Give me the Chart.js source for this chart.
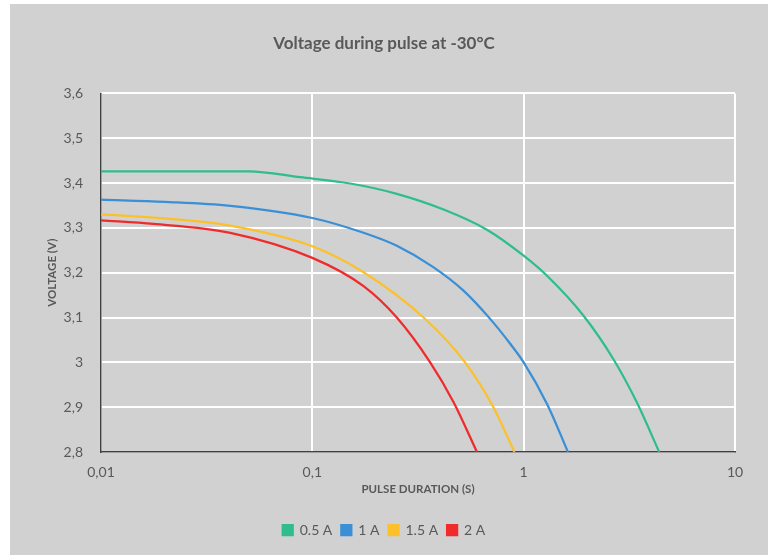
<!DOCTYPE html>
<html>
<head>
<meta charset="utf-8">
<script src="https://cdn.jsdelivr.net/npm/chart.js@4.4.1/dist/chart.umd.min.js"></script>
<style>
  html, body { margin: 0; padding: 0; background: #ffffff; }
  #wrap { width: 768px; height: 555px; }
</style>
</head>
<body>
<div id="wrap"><canvas id="c" width="768" height="555"></canvas></div>
<script>
// ---- data ----
const seriesNames = ['0.5 A', '1 A', '1.5 A', '2 A'];
const seriesColors = ['#2fbd90', '#3a8fd6', '#fcc12a', '#ef2b2b'];

const dur05 = [0.01, 0.05, 0.0877, 0.151, 0.251, 0.418, 0.67, 1.0, 1.297, 1.92, 2.66, 3.43, 4.38];
const volt05 = [3.426, 3.426, 3.413, 3.399, 3.376, 3.341, 3.296, 3.238, 3.192, 3.104, 3.007, 2.911, 2.8];

const dur1 = [0.01, 0.02, 0.0409, 0.1, 0.1747, 0.251, 0.372, 0.519, 0.694, 0.862, 1.0, 1.297, 1.62];
const volt1 = [3.363, 3.358, 3.349, 3.322, 3.289, 3.260, 3.213, 3.160, 3.097, 3.042, 3.0, 2.905, 2.8];

const dur15 = [0.01, 0.02, 0.0409, 0.1, 0.1747, 0.336, 0.528, 0.719, 0.904];
const volt15 = [3.330, 3.321, 3.305, 3.259, 3.201, 3.1, 3.0, 2.9, 2.8];

const dur2 = [0.01, 0.0177, 0.0409, 0.1, 0.1747, 0.251, 0.361, 0.466, 0.601];
const volt2 = [3.317, 3.309, 3.289, 3.233, 3.170, 3.100, 3.0, 2.911, 2.8];

const xTickValues = [0.01, 0.1, 1, 10];
const xTickLabels = ['0,01', '0,1', '1', '10'];
const yTickValues = [2.8, 2.9, 3.0, 3.1, 3.2, 3.3, 3.4, 3.5, 3.6];
const yTickLabels = ['2,8', '2,9', '3', '3,1', '3,2', '3,3', '3,4', '3,5', '3,6'];

const durations = [dur05, dur1, dur15, dur2];
const voltages = [volt05, volt1, volt15, volt2];

// ---- build ----
const FONT = 'Lato, "Open Sans", sans-serif';
const TXT = '#595959';

const datasets = seriesNames.map((name, i) => ({
  label: name,
  data: durations[i].map((d, j) => ({ x: d, y: voltages[i][j] })),
  borderColor: seriesColors[i],
  backgroundColor: seriesColors[i],
  borderWidth: 2.25,
  pointRadius: 0,
  pointHoverRadius: 0,
  cubicInterpolationMode: 'monotone',
  fill: false
}));

const bgPlugin = {
  id: 'bg',
  beforeDraw(chart) {
    const ctx = chart.ctx;
    ctx.save();
    ctx.fillStyle = '#ffffff';
    ctx.fillRect(0, 0, chart.width, chart.height);
    ctx.fillStyle = '#d0d1d0';
    ctx.fillRect(10, 4, chart.width - 10, chart.height - 4);
    ctx.restore();
  }
};

new Chart(document.getElementById('c'), {
  type: 'line',
  data: { datasets },
  plugins: [bgPlugin],
  options: {
    responsive: false,
    animation: false,
    devicePixelRatio: 1,
    layout: { padding: { left: 0, right: 0, top: 0, bottom: 8 } },
    plugins: {
      title: {
        display: true,
        text: 'Voltage during pulse at -30°C',
        color: TXT,
        font: { family: FONT, size: 17, weight: 'bold' },
        padding: { top: 33, bottom: 40 }
      },
      legend: {
        display: true,
        position: 'bottom',
        labels: {
          color: TXT,
          font: { family: FONT, size: 14 },
          boxWidth: 10,
          boxHeight: 10,
          padding: 9,
          useBorderRadius: false
        }
      },
      tooltip: { enabled: false }
    },
    scales: {
      x: {
        type: 'logarithmic',
        min: 0.01,
        max: 10,
        afterBuildTicks(scale) { scale.ticks = xTickValues.map(v => ({ value: v })); },
        afterFit(scale) { scale.height = 62; },
        ticks: {
          color: TXT,
          font: { family: FONT, size: 14 },
          padding: 12,
          maxRotation: 0,
          autoSkip: false,
          callback(value) { const k = xTickValues.indexOf(value); return k >= 0 ? xTickLabels[k] : ''; }
        },
        grid: { color: '#ffffff', lineWidth: 2, drawTicks: false },
        border: { display: true, color: '#404040', width: 1.5 },
        title: {
          display: true,
          text: 'PULSE DURATION (S)',
          color: TXT,
          font: { family: FONT, size: 11.5, weight: 'bold' },
          padding: { top: 0, bottom: 18 }
        }
      },
      y: {
        min: 2.8,
        max: 3.6,
        afterBuildTicks(scale) { scale.ticks = yTickValues.map(v => ({ value: v })); },
        afterFit(scale) { scale.width = 101; },
        ticks: {
          color: TXT,
          font: { family: FONT, size: 14 },
          padding: 18,
          callback(value) {
            const k = yTickValues.findIndex(v => Math.abs(v - value) < 1e-6);
            return k >= 0 ? yTickLabels[k] : '';
          }
        },
        grid: { color: '#ffffff', lineWidth: 2, drawTicks: false },
        border: { display: true, color: '#404040', width: 1.5 },
        title: {
          display: true,
          text: 'VOLTAGE (V)',
          color: TXT,
          font: { family: FONT, size: 11.5, weight: 'bold' },
          padding: { top: 45, bottom: 0 }
        }
      },
      yR: {
        position: 'right',
        display: true,
        afterFit(scale) { scale.width = 33; },
        ticks: { display: false },
        grid: { display: false, drawOnChartArea: false },
        border: { display: false }
      }
    }
  }
});
</script>
</body>
</html>
